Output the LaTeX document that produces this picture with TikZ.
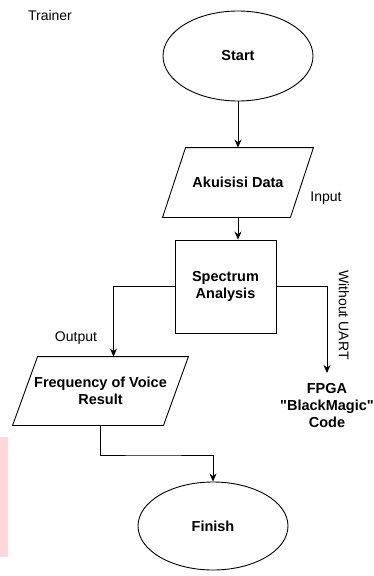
\documentclass[tikz,border=0pt]{standalone}
\usepackage{fontspec}
\setmainfont{Liberation Sans}[Ligatures=TeXOff]
\usetikzlibrary{shapes.geometric,arrows.meta}
\tikzset{
  txt/.style={font=\fontsize{14}{17}\selectfont},
  boldtxt/.style={font=\fontsize{14.5}{17}\selectfont\bfseries},
  term/.style={draw,ellipse,minimum width=150pt,minimum height=90pt,boldtxt},
  iobox/.style={minimum width=150pt,minimum height=69pt,align=center,boldtxt},
  procbox/.style={draw,minimum width=101pt,minimum height=93pt,align=center,boldtxt},
  lbl/.style={inner sep=0pt,txt},
  flow/.style={-{Stealth[length=8pt,width=7pt]}}
}
\begin{document}
\begin{tikzpicture}[x=1pt,y=-1pt,line width=0.9pt]
            \useasboundingbox (0,0) rectangle (374,576);
            \fill[red!15] (0,437) rectangle (8,557);
            \node[lbl] (trainer) at (50,15) {Trainer};
            \node[term] (start) at (238,56) {Start};
            \node[iobox] (acq) at (238,182.5) {Akuisisi Data};
            \draw (acq.south west) -- ([xshift=23pt]acq.north west) -- (acq.north east) -- ([xshift=-23pt]acq.south east) -- cycle;
            \node[lbl] (input) at (326,198) {Input};
            \node[procbox] (spec) at (225.5,286.5) {Spectrum\\Analysis};
            \node[iobox,minimum width=175pt,minimum height=68pt] (freq) at (100.5,391) {Frequency of Voice\\Result};
            \draw (freq.south west) -- ([xshift=25pt]freq.north west) -- (freq.north east) -- ([xshift=-25pt]freq.south east) -- cycle;
            \node[lbl] (output) at (76,338) {Output};
            \node[lbl,rotate=-90] (uart) at (344,315) {Without UART};
            \node[lbl,align=center,boldtxt] (fpga) at (327,406) {FPGA\\"BlackMagic"\\Code};
            \coordinate (fpgain) at (327,373);
            \node[term,minimum height=88pt] (finish) at (213,526) {Finish};
            \draw[flow] (start) -- (acq);
            \draw[flow] (acq.south) -- (acq.south |- spec.north);
            \draw[flow] (spec.west) -| ([xshift=13pt]freq.north);
            \draw[flow] (spec.east) -| (fpgain);
            \draw[flow] (freq.south) |- (150,455) -| (finish.north);
        \end{tikzpicture}
\end{document}
